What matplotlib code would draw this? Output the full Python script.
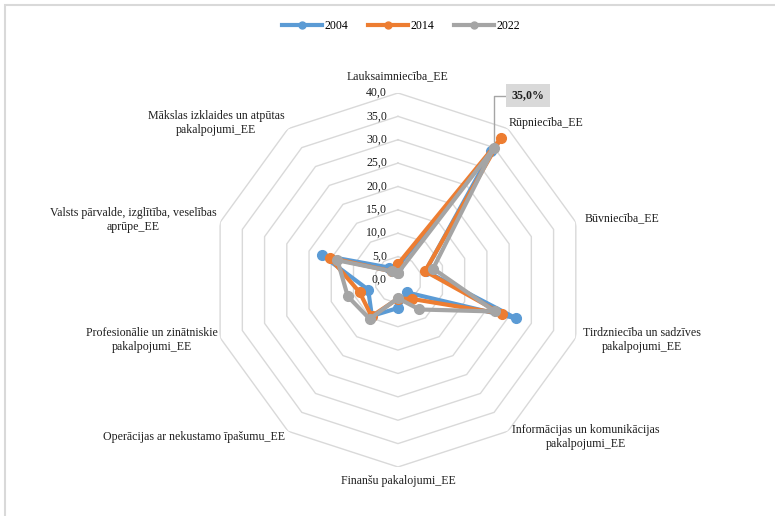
import numpy as np
import matplotlib.pyplot as plt
from matplotlib.lines import Line2D
from matplotlib.patches import Rectangle

plt.rcParams['font.family'] = ['Liberation Serif', 'DejaVu Serif']
plt.rcParams['font.size'] = 8.6

categories = [
    'Lauksaimniecība_EE',
    'Rūpniecība_EE',
    'Būvniecība_EE',
    'Tirdzniecība un sadzīves\npakalpojumi_EE',
    'Informācijas un komunikācijas\npakalpojumi_EE',
    'Finanšu pakalojumi_EE',
    'Operācijas ar nekustamo īpašumu_EE',
    'Profesionālie un zinātniskie\npakalpojumi_EE',
    'Valsts pārvalde, izglītība, veselības\naprūpe_EE',
    'Mākslas izklaides un atpūtas\npakalpojumi_EE',
]
years = ['2004', '2014', '2022']
v2004 = [3.0, 34.0, 6.2, 26.6, 3.3, 6.0, 9.5, 6.7, 17.0, 3.3]
v2014 = [3.4, 37.5, 6.1, 23.3, 5.0, 4.0, 9.6, 8.6, 15.3, 2.3]
v2022 = [1.5, 35.0, 7.9, 21.8, 7.8, 3.9, 10.3, 11.3, 13.6, 2.3]
ring_values = [0, 5, 10, 15, 20, 25, 30, 35, 40]

colors = ['#5B9BD5', '#ED7D31', '#A5A5A5']
text_col = '#1f1f1f'
fs = 8.6

# label offsets (pixels) from the outer ring vertex
label_offsets = [(0, 17), (38, 6), (46, 4), (66, -2), (78, -6),
                 (0, -14), (-94, -6), (-68, -2), (-87, 2), (-72, 6)]

fig = plt.figure(figsize=(7.75, 5.16), dpi=100)
ax = fig.add_axes([0.2722, 0.0950, 0.4826, 0.7248], projection='polar')
ax.set_theta_zero_location('N')
ax.set_theta_direction(-1)
ax.set_ylim(0, 40)
ax.grid(False)
ax.spines['polar'].set_visible(False)
ax.set_xticks([])
ax.set_yticks([])
ax.patch.set_alpha(0)

n = len(categories)
angles = np.arange(n) * 2 * np.pi / n
closed = np.append(angles, angles[0])

# decagon rings
for r in ring_values[1:]:
    ax.plot(closed, [r] * (n + 1), color='#d9d9d9', lw=1, zorder=1)

# value labels
for r in ring_values:
    ax.annotate(f'{r:.1f}'.replace('.', ','), xy=(0, r), xytext=(-11, 0),
                textcoords='offset pixels', ha='right', va='center',
                color=text_col, fontsize=fs, annotation_clip=False)

# category labels
for ang, lab, off in zip(angles, categories, label_offsets):
    ax.annotate(lab, xy=(ang, 40), xytext=off, textcoords='offset pixels',
                ha='center', va='center', multialignment='center',
                color=text_col, fontsize=fs, annotation_clip=False)

for vals, col, yr in zip([v2004, v2014, v2022], colors, years):
    ax.plot(closed, vals + vals[:1], color=col, lw=3, marker='o', ms=7,
            label=yr, zorder=3, clip_on=False)

# data label for 2022 industry
ax.annotate('35,0%', xy=(angles[1], v2022[1]), xytext=(34, 52),
            textcoords='offset pixels', ha='center', va='center',
            fontweight='bold', color=text_col, fontsize=fs,
            bbox=dict(boxstyle='square,pad=0.45', fc='#d9d9d9', ec='none'),
            arrowprops=dict(arrowstyle='-', color='#a5a5a5', lw=1,
                            relpos=(0, 0.5), shrinkA=0, shrinkB=4,
                            connectionstyle='angle,angleA=180,angleB=90,rad=0'),
            zorder=5)

handles = [Line2D([], [], color=c, lw=3, marker='o', ms=5) for c in colors]
fig.legend(handles, years, loc='center', bbox_to_anchor=(401 / 775, 1 - 26 / 516),
           ncol=3, frameon=False, handlelength=3.4, columnspacing=1.6,
           handletextpad=0.2, fontsize=fs)

fig.patches.append(Rectangle((5 / 775, -0.1), 1.2, 1.1 - 5 / 516, fill=False,
                             ec='#d9d9d9', lw=1.5, transform=fig.transFigure))

fig.savefig('out.png', dpi=100)
